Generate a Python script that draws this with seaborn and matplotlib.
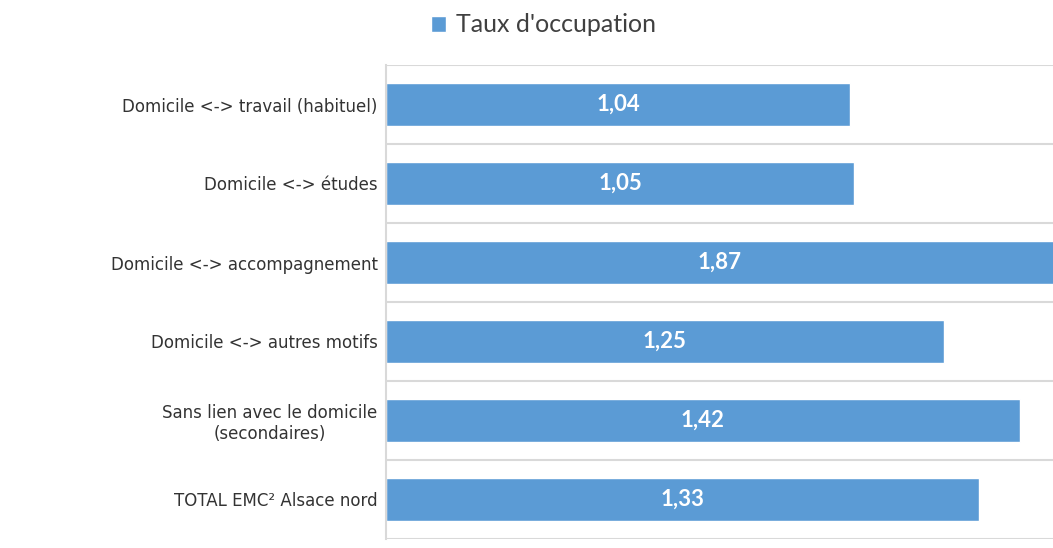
import matplotlib
matplotlib.use('Agg')
import pandas as pd
import matplotlib.pyplot as plt
import seaborn as sns

categories = [
    'Domicile <-> travail (habituel)',
    'Domicile <-> études',
    'Domicile <-> accompagnement',
    'Domicile <-> autres motifs',
    'Sans lien avec le domicile\n(secondaires)',
    'TOTAL EMC² Alsace nord',
]
taux = [1.04, 1.05, 1.87, 1.25, 1.42, 1.33]
series_name = "Taux d'occupation"

df = pd.DataFrame({'motif': categories, 'taux': taux})

sns.set_style('white')
plt.rcParams['font.family'] = ['DejaVu Sans']

bar_color = '#5B9BD5'
xmax = 1.495

fig = plt.figure(figsize=(10.53, 5.48), dpi=100)
ax = fig.add_axes([386 / 1053, 1 - 539 / 548, 1 - 386 / 1053, (539 - 65) / 548])

sns.barplot(data=df, x='taux', y='motif', orient='h', color=bar_color,
            width=0.55, saturation=1, ax=ax, label=series_name)

ax.set_xlim(0, xmax)
ax.set_ylim(len(categories) - 0.5, -0.5)

# separators between categories
for i in range(len(categories) + 1):
    ax.axhline(i - 0.5, color='#D9D9D9', lw=1.5, zorder=0)

for i, v in enumerate(taux):
    xc = min(v, xmax) / 2
    ax.text(xc, i, f'{v:.2f}'.replace('.', ','), ha='center', va='center',
            color='white', fontsize=16, fontweight='bold', family='Lato')

ax.set_xlabel('')
ax.set_ylabel('')
ax.set_xticks([])
ax.tick_params(axis='y', length=0, pad=6, labelsize=12, labelcolor='#333333')
for lab in ax.get_yticklabels():
    lab.set_multialignment('center')

for s in ['top', 'right', 'bottom']:
    ax.spines[s].set_visible(False)
ax.spines['left'].set_color('#D9D9D9')
ax.spines['left'].set_linewidth(1.5)

if ax.legend_:
    ax.legend_.remove()
handles, labels = ax.get_legend_handles_labels()
fig.legend(handles[:1], labels[:1], loc='center', bbox_to_anchor=(0.516, 1 - 25 / 548),
           frameon=False, prop={'family': 'Lato', 'size': 18}, handlelength=0.6,
           handleheight=0.6, handletextpad=0.4, labelcolor='#404040')

fig.savefig('out.png', dpi=100)
